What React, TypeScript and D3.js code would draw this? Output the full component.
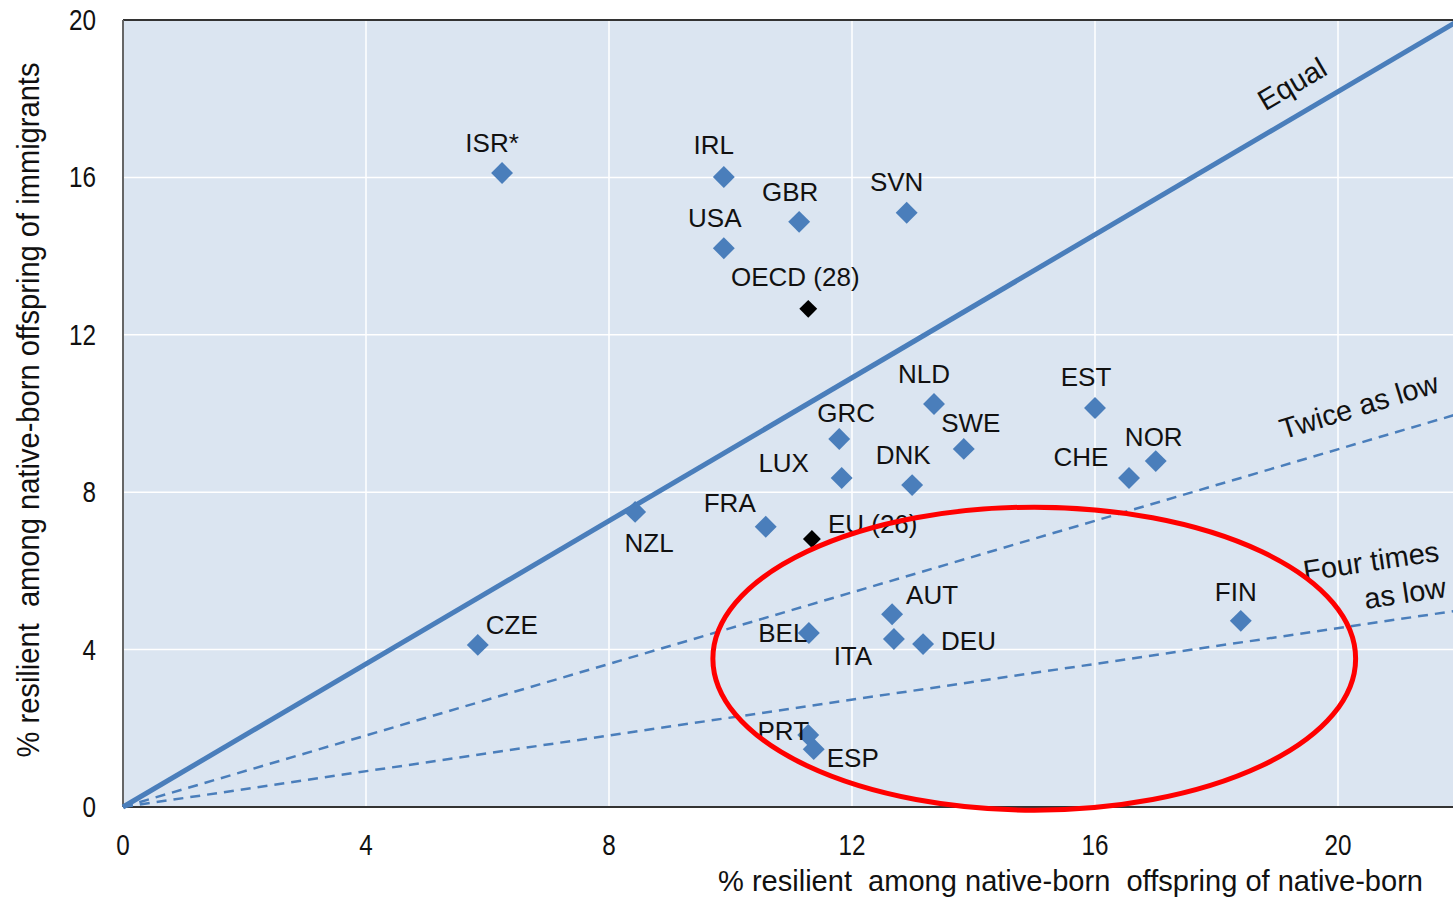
import React from "react";
import * as d3 from "d3";

const countries = ["ISR*", "IRL", "GBR", "USA", "SVN", "NLD", "GRC", "SWE", "LUX", "DNK", "NZL", "FRA", "AUT", "BEL", "ITA", "DEU", "EST", "CHE", "NOR", "FIN", "CZE", "PRT", "ESP"];
const nativeBorn = [6.24, 9.89, 11.13, 9.89, 12.9, 13.35, 11.79, 13.84, 11.83, 12.99, 8.43, 10.58, 12.66, 11.29, 12.69, 13.17, 16.0, 16.56, 17.0, 18.4, 5.84, 11.28, 11.37];
const immigrants = [16.11, 16.01, 14.87, 14.2, 15.1, 10.24, 9.35, 9.1, 8.36, 8.18, 7.5, 7.12, 4.9, 4.42, 4.27, 4.14, 10.14, 8.36, 8.79, 4.73, 4.12, 1.83, 1.47];

const averages = ["OECD (28)", "EU (26)"];
const avgNative = [11.28, 11.34];
const avgImmigrant = [12.66, 6.81];

const xTicks = [0, 4, 8, 12, 16, 20];
const yTicks = [0, 4, 8, 12, 16, 20];

const refLabels = ["Equal", "Twice as low", "Four times"];
const refEndX = [22, 22, 22];
const refEndY = [20, 10, 5];

// label placement (dx, dy from point, anchor)
const labelPlace: Record<string, [number, number, string]> = {
  "ISR*": [-10, -30, "middle"],
  IRL: [-10, -32, "middle"],
  GBR: [-9, -30, "middle"],
  USA: [-9, -30, "middle"],
  SVN: [-10, -31, "middle"],
  NLD: [-10, -30, "middle"],
  GRC: [7, -26, "middle"],
  SWE: [7, -26, "middle"],
  LUX: [-58, -15, "middle"],
  DNK: [-9, -30, "middle"],
  NZL: [14, 31, "middle"],
  FRA: [-36, -24, "middle"],
  AUT: [14, -19, "start"],
  BEL: [-26, 0, "middle"],
  ITA: [-41, 17, "middle"],
  DEU: [18, -3, "start"],
  EST: [-9, -31, "middle"],
  CHE: [-48, -21, "middle"],
  NOR: [-2, -24, "middle"],
  FIN: [-5, -29, "middle"],
  CZE: [8, -20, "start"],
  PRT: [-25, -4, "middle"],
  ESP: [13, 9, "start"],
  "OECD (28)": [-13, -32, "middle"],
  "EU (26)": [16, -15, "start"],
};

const BLUE = "#4a7ebb";
const FONT = "'Liberation Sans', Arial, sans-serif";

export default function App() {
  const W = 1453, H = 900;
  const x = d3.scaleLinear().domain([0, 22]).range([123, 123 + 22 * 60.75]);
  const y = d3.scaleLinear().domain([0, 20]).range([807, 20]);
  const line = d3.line<[number, number]>().x((d) => x(d[0])).y((d) => y(d[1]));
  const diamond = d3.symbol().type(d3.symbolSquare).size(240)();
  const smallDiamond = d3.symbol().type(d3.symbolSquare).size(160)();

  const ellipse = { cx: x(15.0), cy: y(3.77), rx: x(5.29) - x(0), ry: y(0) - y(3.85) };

  const label = (name: string, px: number, py: number) => {
    const [dx, dy, anchor] = labelPlace[name];
    return (
      <text key={"l" + name} x={px + dx} y={py + dy} textAnchor={anchor as any} dominantBaseline="central"
        fontFamily={FONT} fontSize={26} fill="#111">{name}</text>
    );
  };

  return (
    <svg width={W} height={H} style={{ position: "absolute", left: 0, top: 0, display: "block", background: "#fff" }}>
      <rect x={x(0)} y={y(20)} width={x(22) - x(0)} height={y(0) - y(20)} fill="#dbe5f1" />
      {xTicks.filter((t) => t > 0).map((t) => (
        <line key={"gx" + t} x1={x(t)} x2={x(t)} y1={y(0)} y2={y(20)} stroke="#fff" strokeWidth={1.5} />
      ))}
      {yTicks.filter((t) => t > 0 && t < 20).map((t) => (
        <line key={"gy" + t} x1={x(0)} x2={x(22)} y1={y(t)} y2={y(t)} stroke="#fff" strokeWidth={1.5} />
      ))}
      <line x1={x(0)} x2={x(22)} y1={y(20)} y2={y(20)} stroke="#333" strokeWidth={2} />
      <line x1={x(0)} x2={x(22)} y1={y(0)} y2={y(0)} stroke="#333" strokeWidth={2} />
      <line x1={x(0)} x2={x(0)} y1={y(0)} y2={y(20)} stroke="#666" strokeWidth={2} />

      {refLabels.map((r, i) => (
        <path key={"ref" + r} d={line([[0, 0], [refEndX[i], refEndY[i]]]) || ""} fill="none" stroke={BLUE}
          strokeWidth={i === 0 ? 5 : 2.5} strokeDasharray={i === 0 ? undefined : "10,7"} />
      ))}

      <text transform={`translate(1292,84) rotate(-30.5)`} textAnchor="middle" dominantBaseline="central"
        fontFamily={FONT} fontSize={29} fill="#111">Equal</text>
      <text transform={`translate(1359,406) rotate(-17)`} textAnchor="middle" dominantBaseline="central"
        fontFamily={FONT} fontSize={29} fill="#111">Twice as low</text>
      <text transform={`translate(1371,561) rotate(-8.5)`} textAnchor="middle" dominantBaseline="central"
        fontFamily={FONT} fontSize={29} fill="#111">Four times</text>
      <text transform={`translate(1405,593) rotate(-8.5)`} textAnchor="middle" dominantBaseline="central"
        fontFamily={FONT} fontSize={29} fill="#111">as low</text>

      {countries.map((c, i) => (
        <path key={"p" + c} d={diamond || ""} fill={BLUE}
          transform={`translate(${x(nativeBorn[i])},${y(immigrants[i])}) rotate(45)`} />
      ))}
      {averages.map((c, i) => (
        <path key={"a" + c} d={smallDiamond || ""} fill="#000"
          transform={`translate(${x(avgNative[i])},${y(avgImmigrant[i])}) rotate(45)`} />
      ))}
      {countries.map((c, i) => label(c, x(nativeBorn[i]), y(immigrants[i])))}
      {averages.map((c, i) => label(c, x(avgNative[i]), y(avgImmigrant[i])))}

      <ellipse cx={ellipse.cx} cy={ellipse.cy} rx={ellipse.rx} ry={ellipse.ry} fill="none" stroke="#ff0000" strokeWidth={5} />

      {xTicks.map((t) => (
        <text key={"tx" + t} x={x(t)} y={845} textAnchor="middle" dominantBaseline="central"
          fontFamily={FONT} fontSize={29} fill="#111" textLength={String(t).length * 13.5} lengthAdjust="spacingAndGlyphs">{t}</text>
      ))}
      {yTicks.map((t) => (
        <text key={"ty" + t} x={96} y={y(t)} textAnchor="end" dominantBaseline="central"
          fontFamily={FONT} fontSize={29} fill="#111" textLength={String(t).length * 13.5} lengthAdjust="spacingAndGlyphs">{t}</text>
      ))}
      <text x={1423} y={880} textAnchor="end" dominantBaseline="central" fontFamily={FONT} fontSize={30}
        fill="#111" style={{ whiteSpace: "pre" }} textLength={705} lengthAdjust="spacingAndGlyphs">{"% resilient  among native-born  offspring of native-born"}</text>
      <text transform={`translate(28,410) rotate(-90)`} textAnchor="middle" dominantBaseline="central"
        fontFamily={FONT} fontSize={31} fill="#111" style={{ whiteSpace: "pre" }} textLength={695} lengthAdjust="spacingAndGlyphs">{"% resilient  among native-born offspring of immigrants"}</text>
    </svg>
  );
}
